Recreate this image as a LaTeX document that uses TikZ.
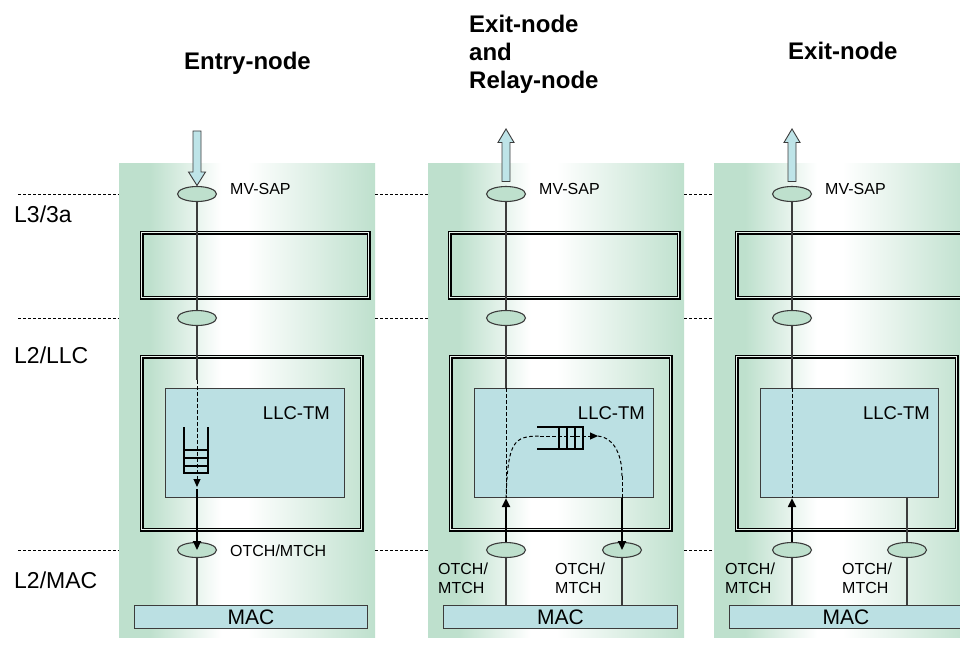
\documentclass[tikz,border=0pt]{standalone}
\usepackage{fontspec}
\setmainfont{Liberation Sans}
\usetikzlibrary{shapes.geometric,arrows.meta,calc}
\definecolor{pg}{RGB}{190,224,205}
\definecolor{tmblue}{RGB}{187,224,227}
\definecolor{arrowblue}{RGB}{190,228,232}
\definecolor{linegray}{RGB}{60,60,60}
\pgfdeclarehorizontalshading{panelshade}{100bp}{color(0bp)=(pg); color(25bp)=(pg); color(31bp)=(pg); color(45bp)=(white); color(50bp)=(white); color(75bp)=(pg); color(100bp)=(pg)}
\begin{document}
\begin{tikzpicture}[x=1pt,y=-1pt,
  panel/.style={shade, shading=panelshade, draw=none, anchor=north west, inner sep=0pt},
  dbox/.style={draw=black, line width=1.2pt, double=pg!35!white, double distance=1.6pt, anchor=north west, inner sep=0pt},
  tmbox/.style={draw=linegray, line width=1.1pt, fill=tmblue, anchor=north west, inner sep=0pt},
  macbox/.style={draw=linegray, line width=1.1pt, fill=tmblue, anchor=north west, inner sep=0pt, font=\fontsize{21}{24}\selectfont},
  sap/.style={ellipse, draw=linegray, line width=1.1pt, fill=pg, minimum width=39pt, minimum height=15pt, inner sep=0pt},
  thinl/.style={draw=linegray, line width=1.1pt},
  dashl/.style={draw=black, line width=1pt, dash pattern=on 3.5pt off 2.5pt},
  thickl/.style={draw=black, line width=2pt},
  tip/.style={-{Triangle[length=9pt,width=8pt]}},
  smalltip/.style={-{Triangle[length=8pt,width=7pt]}},
  layerline/.style={draw=black, line width=0.8pt, dash pattern=on 3pt off 2pt},
  blockarrow/.style={draw=linegray, line width=0.9pt, fill=arrowblue},
  queue/.style={draw=black, line width=1.2pt},
  sapl/.style={anchor=base west, inner sep=0pt, font=\fontsize{16}{19}\selectfont},
  chl/.style={anchor=base west, inner sep=0pt, font=\fontsize{16}{19}\selectfont},
  tml/.style={anchor=base east, inner sep=0pt, font=\fontsize{18.5}{22}\selectfont},
  layerl/.style={anchor=base west, inner sep=0pt, font=\fontsize{23}{27}\selectfont},
  titlel/.style={inner sep=0pt, font=\fontsize{24}{28}\selectfont\bfseries}
]
\clip (0,0) rectangle (960,657);
\fill[white] (0,0) rectangle (960,657);

% ---------- panels ----------
\node[panel, minimum width=256pt, minimum height=474pt] (p1) at (119,163) {};
\node[panel, minimum width=256pt, minimum height=474pt] (p2) at (428,163) {};
\node[panel, minimum width=257pt, minimum height=474pt] (p3) at (714,163) {};

% ---------- ellipses (service access points) ----------
\node[sap] (e1a) at (197,194) {};
\node[sap] (e1b) at (197,318) {};
\node[sap] (e1c) at (197,550) {};
\node[sap] (e2a) at (506,194) {};
\node[sap] (e2b) at (506,318) {};
\node[sap] (e2c) at (506,550) {};
\node[sap] (e2d) at (622,550) {};
\node[sap] (e3a) at (792,194) {};
\node[sap] (e3b) at (792,318) {};
\node[sap] (e3c) at (792,550) {};
\node[sap] (e3d) at (907,550) {};

% ---------- layer dashed lines ----------
\foreach \e/\f/\g in {e1a/e2a/e3a, e1b/e2b/e3b, e1c/e2c/e3c}{
  \draw[layerline] (18,0 |- \e) -- (\e -| p1.west);
  \draw[layerline] (\e -| p1.east) -- (\f -| p2.west);
  \draw[layerline] (\f -| p2.east) -- (\g -| p3.west);
}

% ---------- boxes ----------
\node[dbox, minimum width=227pt, minimum height=65pt] (l3a) at (141,232) {};
\node[dbox, minimum width=220pt, minimum height=173pt] (llc1) at (141,356) {};
\node[tmbox, minimum width=179pt, minimum height=109pt] (tm1) at (165,388) {};
\node[macbox, minimum width=233pt, minimum height=23pt] (mac1) at (134,605) {MAC};

\node[dbox, minimum width=229pt, minimum height=65pt] (l3b) at (449,232) {};
\node[dbox, minimum width=220pt, minimum height=173pt] (llc2) at (450,356) {};
\node[tmbox, minimum width=179pt, minimum height=109pt] (tm2) at (474,388) {};
\node[macbox, minimum width=234pt, minimum height=23pt] (mac2) at (443,605) {MAC};

\node[dbox, minimum width=229pt, minimum height=65pt] (l3c) at (736,232) {};
\node[dbox, minimum width=220pt, minimum height=173pt] (llc3) at (736,356) {};
\node[tmbox, minimum width=178pt, minimum height=109pt] (tm3) at (760,388) {};
\node[macbox, minimum width=233pt, minimum height=23pt] (mac3) at (729,605) {MAC};

% ---------- panel 1 connectors ----------
\coordinate (d1s) at (197,380);
\coordinate (d1e) at (197,487);
\coordinate (d1f) at (197,489);
\draw[thinl] (e1a) -- (e1b);
\draw[thinl] (e1b) -- (d1s);
\draw[dashl, smalltip] (d1s) -- (d1e);
\draw[thickl, tip] (d1f) -- (e1c.center);
\draw[thinl] (e1c) -- (e1c |- mac1.north);
% queue (vertical)
\draw[queue] (184,427) -- (184,473) -- (208,473) -- (208,427);
\foreach \yy in {450,458,466}{ \draw[queue] (184,\yy) -- (208,\yy); }
% entry block arrow
\draw[blockarrow] ($(e1a.north)+(-4,-55)$) -- ($(e1a.north)+(4,-55)$) -- ($(e1a.north)+(4,-14)$)
  -- ($(e1a.north)+(8.5,-14)$) -- ($(e1a.north)+(0,-0.5)$) -- ($(e1a.north)+(-8.5,-14)$)
  -- ($(e1a.north)+(-4,-14)$) -- cycle;

% ---------- panel 2 connectors ----------
\coordinate (c2a) at (540,436);
\coordinate (c2b) at (598,436);
\coordinate (c2c) at (622,476);
\draw[thinl] (e2a) -- (e2b);
\draw[thinl] (e2b) -- (e2b |- tm2.north);
\draw[dashl] (e2b |- tm2.north) -- (e2b |- tm2.south);
\draw[dashl] (e2c |- tm2.south) .. controls (508,442) and (513,436) .. (c2a);
\draw[dashl, smalltip] (c2a) -- (c2b);
\draw[dashl] (c2b) .. controls (612,437) and (622,452) .. (c2c);
\draw[dashl] (c2c) -- (e2d |- tm2.south);
\draw[thickl, tip] (e2c) -- (e2c |- tm2.south);
\draw[thickl, tip] (e2d |- tm2.south) -- (e2d.center);
\draw[thinl] (e2c) -- (e2c |- mac2.north);
\draw[thinl] (e2d) -- (e2d |- mac2.north);
% queue (horizontal)
\draw[queue] (537,427) -- (583,427) -- (583,449) -- (537,449);
\foreach \xx in {559,567,575}{ \draw[queue] (\xx,427) -- (\xx,449); }
% exit block arrow
\draw[blockarrow] ($(e2a.north)+(-4,-4.5)$) -- ($(e2a.north)+(4,-4.5)$) -- ($(e2a.north)+(4,-43.5)$)
  -- ($(e2a.north)+(8,-43.5)$) -- ($(e2a.north)+(0,-57)$) -- ($(e2a.north)+(-8,-43.5)$)
  -- ($(e2a.north)+(-4,-43.5)$) -- cycle;

% ---------- panel 3 connectors ----------
\draw[thinl] (e3a) -- (e3b);
\draw[thinl] (e3b) -- (e3b |- tm3.north);
\draw[dashl] (e3b |- tm3.north) -- (e3b |- tm3.south);
\draw[thickl, tip] (e3c) -- (e3c |- tm3.south);
\draw[thinl] (e3c) -- (e3c |- mac3.north);
\draw[thinl] (e3d |- tm3.south) -- (e3d);
\draw[thinl] (e3d) -- (e3d |- mac3.north);
\draw[blockarrow] ($(e3a.north)+(-4,-4.5)$) -- ($(e3a.north)+(4,-4.5)$) -- ($(e3a.north)+(4,-43.5)$)
  -- ($(e3a.north)+(8,-43.5)$) -- ($(e3a.north)+(0,-57)$) -- ($(e3a.north)+(-8,-43.5)$)
  -- ($(e3a.north)+(-4,-43.5)$) -- cycle;

% ---------- labels ----------
\node[sapl] (s1) at (230,194) {MV-SAP};
\node[sapl] (s2) at (539,194) {MV-SAP};
\node[sapl] (s3) at (825,194) {MV-SAP};

\node[tml] (t1) at (330,419) {LLC-TM};
\node[tml] (t2) at (645,419) {LLC-TM};
\node[tml] (t3) at (930,419) {LLC-TM};

\node[chl] (o1) at (230,556) {OTCH/MTCH};
\node[chl] (o2a) at (438,574) {OTCH/};
\node[chl] (o2b) at (438,593) {MTCH};
\node[chl] (o3a) at (555,574) {OTCH/};
\node[chl] (o3b) at (555,593) {MTCH};
\node[chl] (o4a) at (725,574) {OTCH/};
\node[chl] (o4b) at (725,593) {MTCH};
\node[chl] (o5a) at (842,574) {OTCH/};
\node[chl] (o5b) at (842,593) {MTCH};

\node[layerl] (la) at (14,222) {L3/3a};
\node[layerl] (lb) at (14,363) {L2/LLC};
\node[layerl] (lc) at (14,588) {L2/MAC};

\node[titlel, anchor=base] (h1) at (247.5,69) {Entry-node};
\node[titlel, anchor=base west] (h2a) at (469,32) {Exit-node};
\node[titlel, anchor=base west] (h2b) at (469,60) {and};
\node[titlel, anchor=base west] (h2c) at (469,88) {Relay-node};
\node[titlel, anchor=base west] (h3) at (788,59) {Exit-node};
\end{tikzpicture}
\end{document}
